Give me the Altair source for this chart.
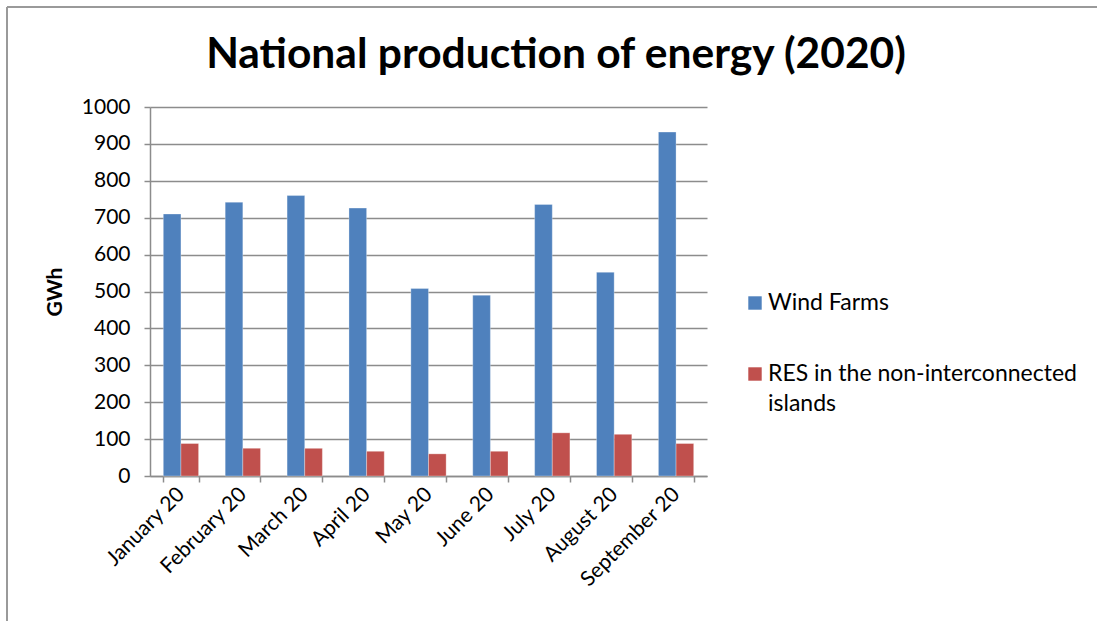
import altair as alt
import pandas as pd

# Monthly production, GWh
months = [
    "January 20", "February 20", "March 20", "April 20", "May 20",
    "June 20", "July 20", "August 20", "September 20",
]
wind_farms = [710, 742, 760, 726, 508, 490, 736, 552, 932]
res_islands = [88, 75, 75, 67, 60, 67, 117, 113, 88]
series_names = ["Wind Farms", "RES in the non-interconnected islands"]
series_colors = ["#4F81BD", "#C0504D"]
y_ticks = list(range(0, 1001, 100))
chart_title = "National production of energy (2020)"

rows = []
for m, w, r in zip(months, wind_farms, res_islands):
    rows.append({"month": m, "series": series_names[0], "gwh": w})
    rows.append({"month": m, "series": series_names[1], "gwh": r})
df = pd.DataFrame(rows)

FONT = "Lato"
GRAY = "#8c8c8c"
W, H = 557, 369
LEFT, TOP = 150, 107
TOTAL_W, TOTAL_H = 1097, 621

color_scale = alt.Scale(domain=series_names, range=series_colors)

bars = alt.Chart(df).mark_bar(stroke="#ffffff", strokeWidth=0.6, strokeOpacity=0.5).encode(
    x=alt.X(
        "month:N", sort=months, title=None,
        scale=alt.Scale(paddingInner=0.43, paddingOuter=0.215),
        axis=alt.Axis(
            labelAngle=-45, labelAlign="right", labelBaseline="middle",
            labelFontSize=21, labelFont=FONT, labelColor="#000000",
            labelPadding=9, tickBand="extent", tickSize=6,
            tickColor=GRAY, tickWidth=1.5, domainColor=GRAY, domainWidth=1.5,
            grid=False,
        ),
    ),
    xOffset=alt.XOffset(
        "series:N", sort=series_names,
        scale=alt.Scale(paddingInner=0, paddingOuter=0),
    ),
    y=alt.Y(
        "gwh:Q",
        scale=alt.Scale(domain=[0, 1000], nice=False),
        axis=alt.Axis(
            values=y_ticks, format="d", title="GWh", titleFont=FONT,
            titleFontSize=21, titleFontWeight="bold", titleColor="#000000",
            titlePadding=16,
            labelFont=FONT, labelFontSize=21, labelColor="#000000",
            labelPadding=14, tickSize=6, tickColor=GRAY, tickWidth=1.5,
            domainColor=GRAY, domainWidth=1.5,
            grid=True, gridColor=GRAY, gridWidth=1.5,
        ),
    ),
    color=alt.Color("series:N", sort=series_names, scale=color_scale, legend=None),
)

# Legend on the right: a square swatch and a (wrapped) label per series
legend_layers = []
legend_rows_y = [303, 374]
for name, row_y in zip(series_names, legend_rows_y):
    entry = pd.DataFrame({"series": [name]})
    if name.startswith("RES"):
        entry["label"] = ["RES in the non-interconnected|islands"]
    else:
        entry["label"] = [name]
    swatch = alt.Chart(entry).mark_square(size=180, opacity=1).encode(
        x=alt.value(755 - LEFT), y=alt.value(row_y - TOP),
        color=alt.Color("series:N", scale=color_scale, legend=None),
    )
    label = alt.Chart(entry).mark_text(
        font=FONT, fontSize=23, color="#000000", align="left",
        baseline="middle", lineBreak="|", lineHeight=30,
    ).encode(text="label:N", x=alt.value(768 - LEFT), y=alt.value(row_y - TOP))
    legend_layers += [swatch, label]

# Title drawn as text above the plot
title_df = pd.DataFrame({"text": [chart_title]})
title = alt.Chart(title_df).mark_text(
    font=FONT, fontSize=42.5, fontWeight="bold", color="#000000",
    align="center", baseline="alphabetic",
).encode(text="text:N", x=alt.value(556 - LEFT), y=alt.value(68 - TOP))

# Outer chart frame (top and left edges)
frame_df = pd.DataFrame({"edge": ["top"]})
frame_top = alt.Chart(frame_df).mark_rule(color="#9a9a9a", strokeWidth=2).encode(
    x=alt.value(7 - LEFT), x2=alt.value(TOTAL_W - LEFT), y=alt.value(7 - TOP)
)
frame_left = alt.Chart(frame_df).mark_rule(color="#9a9a9a", strokeWidth=2).encode(
    x=alt.value(7 - LEFT), y=alt.value(7 - TOP), y2=alt.value(TOTAL_H - TOP)
)

chart = alt.layer(bars, *legend_layers, title, frame_top, frame_left).properties(
    width=W,
    height=H,
    autosize=alt.AutoSizeParams(type="none"),
    padding={"left": LEFT, "top": TOP, "right": TOTAL_W - LEFT - W, "bottom": TOTAL_H - TOP - H},
    background="#ffffff",
).configure_view(stroke=None)

chart.save("out.html", embed_options={"renderer": "svg", "actions": False})
